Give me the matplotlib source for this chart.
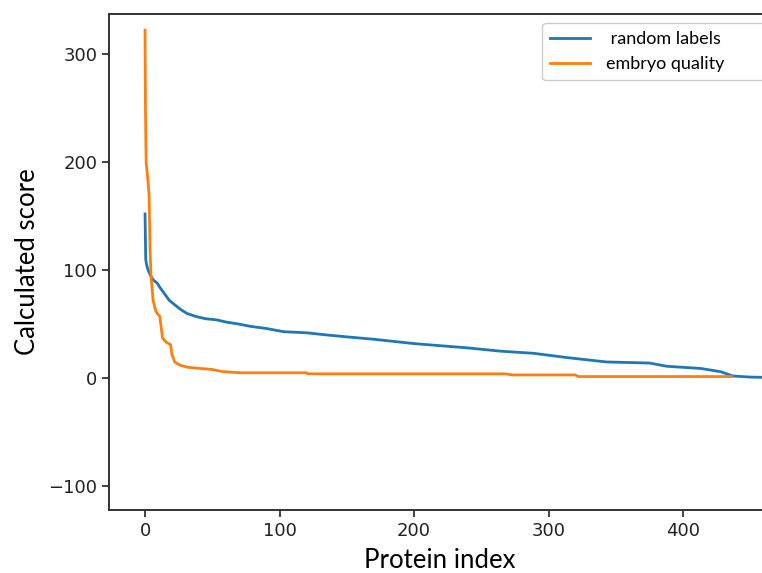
import matplotlib
matplotlib.use("Agg")
import matplotlib.pyplot as plt

# values
random_idx = [0, 0.5, 1, 2, 4, 6, 9, 11, 14, 18, 22, 26, 31, 38, 45, 53, 60, 70, 78,
              90, 103, 120, 135, 152, 170, 185, 200, 220, 240, 264, 289, 314, 343,
              375, 388, 413, 428, 437, 450, 470]
random_score = [152, 110, 106, 101, 95, 91, 88, 84, 79, 72, 68, 64, 60, 57, 55, 54, 52,
                50, 48, 46, 43, 42, 40, 38, 36, 34, 32, 30, 28, 25, 23, 19, 15, 14, 11,
                9, 6, 2, 1, 0.5]

quality_idx = [0, 0.3, 0.8, 2, 3, 3.7, 4.5, 6, 8, 9, 11, 13, 16, 19, 20, 22, 26, 32,
               41, 50, 58, 71, 120, 121, 268, 273, 320, 322, 436]
quality_score = [322, 250, 200, 185, 170, 120, 93, 72, 62, 60, 57, 37, 33, 31, 22, 15,
                 12, 10, 9, 8, 6, 5, 5, 4, 4, 3, 3, 1.5, 1.5]

xticks = [0, 100, 200, 300, 400]
yticks = [-100, 0, 100, 200, 300]

W, H = 762, 573
fig = plt.figure(figsize=(W / 100, H / 100), dpi=100)
left, right, top, bottom = 109, 771, 14, 510
ax = fig.add_axes([left / W, 1 - bottom / H, (right - left) / W, (bottom - top) / H])

ax.plot(random_idx, random_score, color="#1f77b4", lw=2.0, label=" random labels")
ax.plot(quality_idx, quality_score, color="#ff7f0e", lw=2.0, label="embryo quality")

ax.set_xlim(-26.8, 465.4)
ax.set_ylim(-122, 337)
ax.set_xticks(xticks)
ax.set_yticks(yticks)
ax.tick_params(labelsize=13, length=5, width=1.2, colors="#222222")
for s in ax.spines.values():
    s.set_linewidth(1.4)
    s.set_color("#333333")
ax.spines["right"].set_visible(False)  # cut off in the reference

ax.set_xlabel("Protein index", fontsize=18.5, family="Lato", labelpad=6)
ax.set_ylabel("Calculated score", fontsize=18.5, family="Lato", labelpad=6)

# legend box runs past the right edge of the picture, as in the reference
leg = ax.legend(loc="upper left", mode="expand",
                bbox_to_anchor=(542 / W, 1 - 23 / H, 240 / W, 0),
                bbox_transform=fig.transFigure, prop={"family": "Lato", "size": 13},
                handlelength=2.2, handletextpad=0.9, borderpad=0.45, labelspacing=0.5,
                borderaxespad=0, framealpha=1)
leg.get_frame().set_edgecolor("#cccccc")

fig.savefig("out.png", dpi=100)
